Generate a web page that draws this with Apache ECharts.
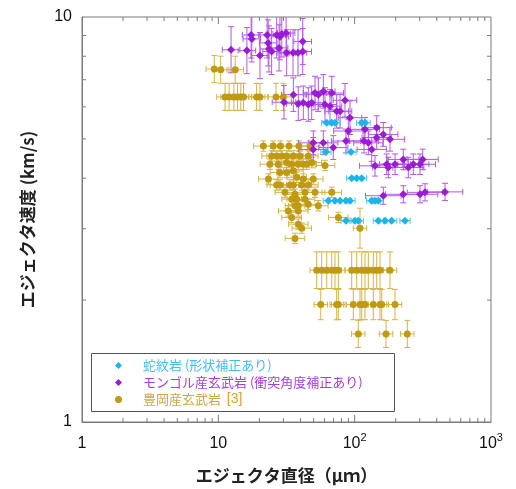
<!DOCTYPE html>
<html><head><meta charset="utf-8">
<script src="https://cdn.jsdelivr.net/npm/echarts@6/dist/echarts.min.js"></script>
<style>html,body{margin:0;padding:0;background:#fff}#c{width:516px;height:489px}</style>
</head><body><div id="c"></div>
<script>
// ---- Data ----
// 蛇紋岩 (形状補正あり): diameter [μm], velocity [km/s], x error [%]
const serpX = [62.4,67.9,71.7,112.6,119.1,61.6,94.0,95.1,103.5,112.6,64.1,71.7,78.1,86.4,92.4,133.4,141.0,149.1,86.4,100.6,106.3,149.1,167.0,187.0,234.0];
const serpY = [5.48,5.48,5.48,5.48,5.48,4.64,4.64,4.00,4.00,4.00,3.52,3.52,3.52,3.52,3.52,3.52,3.52,3.52,3.14,3.14,3.14,3.14,3.14,3.14,3.14];
const serpEx = [9,9,9,9,9,9,9,9,9,9,9,9,9,9,9,9,9,9,9,9,9,9,9,9,9];
const serpEy = [0,0,0,0,0,0,0,0,0,0,0,0,0,0,0,0,0,0,0,0,0,0,0,0,0];

// モンゴル産玄武岩 (衝突角度補正あり)
const mongX = [12.4,16.2,17.4,17.6,20.2,22.8,23.2,23.5,24.6,26.8,27.9,28.3,29.2,31.4,31.7,35.3,38.4,41.6,41.6,
  30.3,35.5,38.6,42.0,45.7,48.4,51.2,54.1,58.9,60.6,65.9,67.9,73.8,78.1,84.9,92.4,
  49.7,49.7,58.9,69.7,86.4,89.8,119.1,117.1,125.9,133.4,145.1,145.1,162.2,181.6,
  141.0,171.8,176.5,197.7,227.4,247.5,269.3,301.5,315.6,
  162.2,227.4,301.5,328.1,460];
const mongY = [8.30,8.26,9.03,8.83,8.03,9.03,8.63,8.34,8.22,9.03,8.39,8.94,9.08,9.13,8.16,8.16,8.16,8.70,8.22,
  6.16,6.43,6.11,6.14,6.08,6.14,6.49,6.43,6.55,6.08,6.02,6.49,5.85,5.85,6.23,5.64,
  4.89,4.71,4.89,4.76,4.94,5.23,5.28,4.94,4.89,4.71,5.33,5.04,5.13,4.99,
  4.29,4.33,4.25,4.33,4.45,4.25,4.33,4.33,4.45,
  3.62,3.65,3.65,3.69,3.70];
const mongEx = [16,16,16,16,16,16,16,16,16,16,16,16,16,16,16,16,16,16,16,
  22,22,22,22,22,22,22,22,22,22,22,22,22,22,22,22,
  28,28,28,28,28,28,28,28,28,28,28,28,28,28,
  30,30,30,30,30,30,30,30,30,
  35,35,35,35,35];
const mongEy = [14,14,14,14,14,14,14,14,14,14,14,14,14,14,14,14,14,14,14,
  10,10,10,10,10,10,10,10,10,10,10,10,10,10,10,10,
  7,7,7,7,7,7,7,7,7,7,7,7,7,7,
  6,6,6,6,6,6,6,6,6,
  5,5,5,5,5];

// 豊岡産玄武岩 [3]
const toyoX = [9.34,10.4,13.3,
  11.2,12.0,13.0,13.8,14.6,15.3,19.1,20.2,26.5,30.0,
  21.4,25.3,28.5,33.0,39.0,47.0,
  24.6,26.8,29.2,31.7,35.5,39.7,45.7,
  23.9,27.5,34.5,38.6,42.0,44.5,60.6,31.7,48.4,
  28.3,31.7,35.5,
  23.3,42.0,49.7,37.6,
  26.8,28.3,33.6,35.5,40.9,45.7,
  30.8,43.2,51.2,67.9,36.5,
  34.5,37.6,43.2,
  45.7,36.5,38.6,54.1,
  32.6,38.6,
  34.5,75.9,
  38.6,40.9,36.5,
  109.4,
  52.7,57.3,62.4,67.9,71.7,75.9,95.1,103.5,112.6,119.1,125.9,137.0,145.1,153.4,181.6,
  56.4,73.8,75.9,97.7,109.4,112.6,119.1,137.0,153.4,157.9,197.7,
  106.3,169.8,243.3];
const toyoY = [7.44,7.41,7.41,
  6.35,6.35,6.35,6.35,6.35,6.35,6.35,6.35,6.35,6.35,
  4.80,4.80,4.80,4.80,4.80,4.80,
  4.54,4.54,4.54,4.54,4.54,4.54,4.54,
  4.33,4.33,4.33,4.33,4.33,4.33,4.30,4.37,4.37,
  4.13,4.13,4.17,
  3.98,3.98,3.98,4.02,
  3.85,3.85,3.85,3.85,3.85,3.85,
  3.69,3.69,3.69,3.69,3.65,
  3.55,3.55,3.55,
  3.45,3.42,3.42,3.42,
  3.32,3.32,
  3.20,3.20,
  3.08,3.01,2.84,
  3.01,
  2.37,2.37,2.37,2.37,2.37,2.37,2.37,2.37,2.37,2.37,2.37,2.37,2.37,2.37,2.37,
  1.95,1.95,1.95,1.95,1.95,1.95,1.95,1.95,1.95,1.95,1.95,
  1.65,1.65,1.65];
const toyoEx = [15,15,15, 15,15,15,15,15,15,15,15,15,15,
  18,18,18,18,18,18, 18,18,18,18,18,18,18, 18,18,18,18,18,18,18,18,18, 18,18,18, 18,18,18,18,
  18,18,18,18,18,18, 18,18,18,18,18, 18,18,18, 18,18,18,18, 18,18, 18,18, 18,18,18,
  12,
  12,12,12,12,12,12,12,12,12,12,12,12,12,12,12,
  12,12,12,12,12,12,12,12,12,12,12,
  12,12,12];
const toyoEy = [8,8,8, 8,8,8,8,8,8,8,8,8,8,
  3,3,3,3,3,3, 3,3,3,3,3,3,3, 3,3,3,3,3,3,3,3,3, 3,3,3, 3,3,3,3,
  3,3,3,3,3,3, 3,3,3,3,3, 3,3,3, 3,3,3,3, 3,3, 3,3, 3,3,3,
  12,
  11,11,11,11,11,11,11,11,11,11,11,11,11,11,11,
  9,9,9,9,9,9,9,9,9,9,9,
  8,8,8];

const seriesNames = ['蛇紋岩 (形状補正あり)', 'モンゴル産玄武岩 (衝突角度補正あり)', '豊岡産玄武岩'];
const xMajorTicks = [10, 100];
const xMinorTicks = [2,3,4,5,6,7,8,9,20,30,40,50,60,70,80,90,200,300,400,500,600,700,800,900];
const yMinorTicks = [2,3,4,5,6,7,8,9];

// ---- Chart ----
const chart = echarts.init(document.getElementById('c'), null, {renderer: 'canvas'});
const C_SERP = '#1db4ea', C_MONG = '#9a1ad6', C_TOYO = '#bf9a12';
const FONT_LAT = '"Liberation Sans", Arial, sans-serif';
const FONT_JP = '"Noto Sans CJK JP", sans-serif';

function zip(xs, ys) { return xs.map((x, i) => [x, ys[i]]); }

function errSeries(xs, ys, ex, ey, color) {
  return {
    type: 'custom', silent: true, z: 2, clip: true,
    data: xs.map((x, i) => [x, ys[i], ex[i], ey[i]]),
    renderItem(params, api) {
      const x = api.value(0), y = api.value(1);
      const fx = 1 + api.value(2) / 100, fy = 1 + api.value(3) / 100;
      const cap = 3;
      const st = {stroke: color, lineWidth: 1};
      const ch = [];
      const L = (x1, y1, x2, y2) => ch.push({type: 'line', shape: {x1, y1, x2, y2}, style: st});
      if (fx > 1) {
        const a = api.coord([x / fx, y]), b = api.coord([x * fx, y]);
        L(a[0], a[1], b[0], b[1]);
        L(a[0], a[1] - cap, a[0], a[1] + cap);
        L(b[0], b[1] - cap, b[0], b[1] + cap);
      }
      if (fy > 1) {
        const a = api.coord([x, y / fy]), b = api.coord([x, y * fy]);
        L(a[0], a[1], b[0], b[1]);
        L(a[0] - cap, a[1], a[0] + cap, a[1]);
        L(b[0] - cap, b[1], b[0] + cap, b[1]);
      }
      return {type: 'group', children: ch};
    }
  };
}

function tickSeries(values, isX, len) {
  return {
    type: 'custom', silent: true, z: 5, clip: false,
    data: values.map(v => [isX ? v : 1, isX ? 1 : v]),
    renderItem(params, api) {
      const v = api.value(isX ? 0 : 1);
      const st = {stroke: '#7a7a7a', lineWidth: 1};
      if (isX) {
        const b = api.coord([v, 1]), t = api.coord([v, 10]);
        return {type: 'group', children: [
          {type: 'line', shape: {x1: b[0], y1: b[1], x2: b[0], y2: b[1] - len}, style: st},
          {type: 'line', shape: {x1: t[0], y1: t[1], x2: t[0], y2: t[1] + len}, style: st}
        ]};
      } else {
        const l = api.coord([1, v]), r = api.coord([1000, v]);
        return {type: 'group', children: [
          {type: 'line', shape: {x1: l[0], y1: l[1], x2: l[0] + len, y2: l[1]}, style: st},
          {type: 'line', shape: {x1: r[0], y1: r[1], x2: r[0] - len, y2: r[1]}, style: st}
        ]};
      }
    }
  };
}

const option = {
  backgroundColor: '#fff',
  animation: false,
  grid: {left: 82, right: 25, top: 17, bottom: 65, show: true, borderColor: '#7a7a7a', borderWidth: 1},
  xAxis: {
    type: 'log', logBase: 10, min: 1, max: 1000,
    name: 'エジェクタ直径（μｍ）', nameLocation: 'middle', nameGap: 45,
    nameTextStyle: {fontFamily: FONT_JP, fontSize: 17, fontWeight: 'bold', color: '#222'},
    axisLine: {show: true, lineStyle: {color: '#7a7a7a'}},
    axisTick: {show: false}, splitLine: {show: false},
    axisLabel: {
      margin: 10, color: '#111', fontFamily: FONT_LAT, fontSize: 16,
      formatter: v => v < 5 ? '{b|1}' : (v < 50 ? '{b|10}' : '{b|10}{s|' + Math.round(Math.log10(v)) + '}'),
      rich: {
        b: {fontFamily: FONT_LAT, fontSize: 16, color: '#111', lineHeight: 20, verticalAlign: 'bottom'},
        s: {fontFamily: FONT_LAT, fontSize: 11, color: '#111', lineHeight: 20, verticalAlign: 'top'}
      }
    }
  },
  yAxis: {
    type: 'log', logBase: 10, min: 1, max: 10,
    name: 'エジェクタ速度 (km/s)', nameLocation: 'middle', nameGap: 46,
    nameTextStyle: {fontFamily: FONT_JP, fontSize: 17, fontWeight: 'bold', color: '#222'},
    axisLine: {show: true, lineStyle: {color: '#7a7a7a'}},
    axisTick: {show: false}, splitLine: {show: false},
    axisLabel: {margin: 10, color: '#111', fontFamily: FONT_LAT, fontSize: 16}
  },
  legend: {
    orient: 'vertical', left: 115, top: 357, itemGap: 0, padding: 0,
    itemWidth: 7, itemHeight: 7, selectedMode: false,
    data: [
      {name: seriesNames[0], icon: 'diamond', textStyle: {color: '#42bfee'}},
      {name: seriesNames[1], icon: 'diamond', textStyle: {color: '#a23fe0'}},
      {name: seriesNames[2], icon: 'circle', textStyle: {color: '#c9a850'}}
    ],
    formatter: n => n === seriesNames[2] ? '{o|' + n + '}  {r|[3]}' : n,
    textStyle: {
      fontFamily: FONT_JP, fontSize: 13, lineHeight: 17, padding: [0, 0, 0, 16],
      rich: {
        o: {fontFamily: FONT_JP, fontSize: 13, color: '#c9a850', lineHeight: 17},
        r: {fontFamily: FONT_LAT, fontSize: 14, color: '#e0a030', lineHeight: 17}
      }
    }
  },
  graphic: [{
    type: 'rect', silent: true, z: 1,
    shape: {x: 91.5, y: 353.5, width: 303, height: 58},
    style: {fill: '#fff', stroke: '#555', lineWidth: 1}
  }],
  series: [
    errSeries(toyoX, toyoY, toyoEx, toyoEy, '#d3b548'),
    errSeries(mongX, mongY, mongEx, mongEy, '#b25ae6'),
    errSeries(serpX, serpY, serpEx, serpEy, '#45c4f0'),
    {name: seriesNames[2], type: 'scatter', z: 3, symbol: 'circle', symbolSize: 7,
     itemStyle: {color: C_TOYO, opacity: 1}, data: zip(toyoX, toyoY)},
    {name: seriesNames[1], type: 'scatter', z: 3, symbol: 'diamond', symbolSize: 8,
     itemStyle: {color: C_MONG, opacity: 1}, data: zip(mongX, mongY)},
    {name: seriesNames[0], type: 'scatter', z: 3, symbol: 'diamond', symbolSize: 8,
     itemStyle: {color: C_SERP, opacity: 1}, data: zip(serpX, serpY)},
    tickSeries(xMinorTicks, true, 4),
    tickSeries(xMajorTicks, true, 7),
    tickSeries(yMinorTicks, false, 4)
  ]
};
chart.setOption(option);
</script>
</body></html>
